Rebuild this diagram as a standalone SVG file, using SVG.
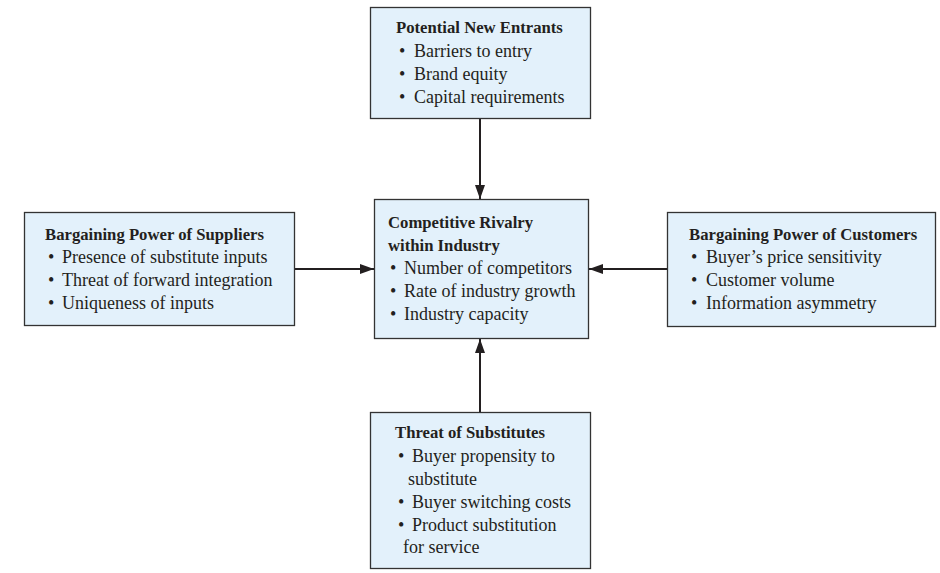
<svg xmlns="http://www.w3.org/2000/svg" width="940" height="573" viewBox="0 0 940 573">
<style>
.box{fill:#e3f1fb;stroke:#333;stroke-width:1.3}
text{font-family:"Liberation Serif","Times New Roman",serif;font-size:18px;fill:#231f20}
.t{font-weight:bold;font-size:16.7px}
.c{stroke:#231f20;stroke-width:2;fill:none}
</style>
<defs>
<marker id="ah" viewBox="0 0 14 10" refX="14" refY="5" markerWidth="14" markerHeight="10" markerUnits="userSpaceOnUse" orient="auto">
<path d="M0,0 L14,5 L0,10 Z" fill="#231f20"/>
</marker>
</defs>
<rect width="940" height="573" fill="#fff"/>
<g id="connectors">
<line class="c" x1="480" y1="119" x2="480" y2="199" marker-end="url(#ah)"/>
<line class="c" x1="480" y1="412" x2="480" y2="339" marker-end="url(#ah)"/>
<line class="c" x1="295" y1="269" x2="374" y2="269" marker-end="url(#ah)"/>
<line class="c" x1="667" y1="269" x2="589" y2="269" marker-end="url(#ah)"/>
</g>
<g id="entrants">
<rect class="box" x="370.5" y="7.5" width="220" height="111"/>
<text class="t" x="396" y="33">Potential New Entrants</text>
<text x="399" y="57">•</text><text x="414" y="57">Barriers to entry</text>
<text x="399" y="80">•</text><text x="414" y="80">Brand equity</text>
<text x="399" y="103">•</text><text x="414" y="103">Capital requirements</text>
</g>
<g id="suppliers">
<rect class="box" x="24.5" y="212.5" width="270" height="113"/>
<text class="t" x="45" y="240">Bargaining Power of Suppliers</text>
<text x="48" y="263">•</text><text x="62" y="263">Presence of substitute inputs</text>
<text x="48" y="286">•</text><text x="62" y="286">Threat of forward integration</text>
<text x="48" y="309">•</text><text x="62" y="309">Uniqueness of inputs</text>
</g>
<g id="rivalry">
<rect class="box" x="374.5" y="199.5" width="214" height="139"/>
<text class="t" x="388" y="228">Competitive Rivalry</text>
<text class="t" x="388" y="251">within Industry</text>
<text x="390" y="274">•</text><text x="404" y="274">Number of competitors</text>
<text x="390" y="297">•</text><text x="404" y="297">Rate of industry growth</text>
<text x="390" y="320">•</text><text x="404" y="320">Industry capacity</text>
</g>
<g id="customers">
<rect class="box" x="667.5" y="212.5" width="268" height="114"/>
<text class="t" x="689" y="240">Bargaining Power of Customers</text>
<text x="691" y="263">•</text><text x="706" y="263">Buyer’s price sensitivity</text>
<text x="691" y="286">•</text><text x="706" y="286">Customer volume</text>
<text x="691" y="309">•</text><text x="706" y="309">Information asymmetry</text>
</g>
<g id="substitutes">
<rect class="box" x="370.5" y="412.5" width="220" height="156"/>
<text class="t" x="395" y="438">Threat of Substitutes</text>
<text x="398" y="462">•</text><text x="412" y="462">Buyer propensity to</text>
<text x="408" y="485">substitute</text>
<text x="398" y="508">•</text><text x="412" y="508">Buyer switching costs</text>
<text x="398" y="531">•</text><text x="412" y="531">Product substitution</text>
<text x="403" y="553">for service</text>
</g>
</svg>
